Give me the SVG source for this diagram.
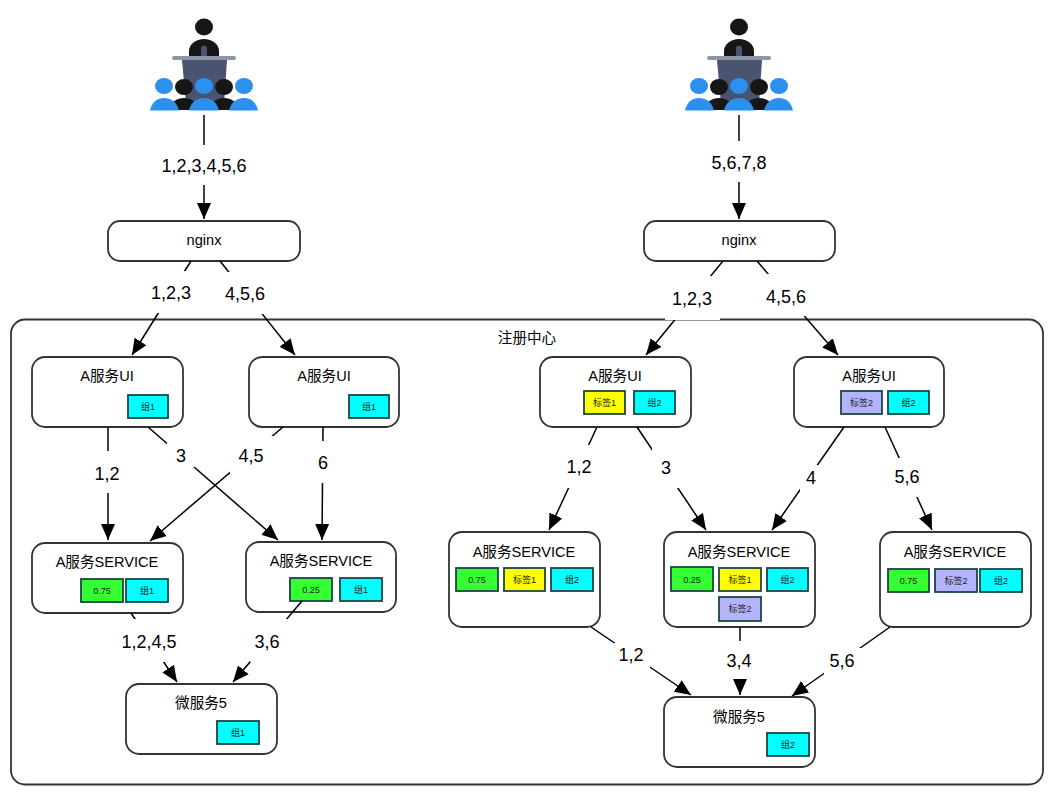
<svg xmlns="http://www.w3.org/2000/svg" xmlns:xlink="http://www.w3.org/1999/xlink" width="1059" height="799" viewBox="0 0 1059 799">
<style>
text{font-family:"Liberation Sans","Noto Sans CJK SC",sans-serif;fill:#000;text-anchor:middle}
.box{fill:#fff;stroke:#333;stroke-width:1.8}
.n{font-size:14.600px}
.t{font-size:9px;fill:#222}
.l{font-size:18px}
.tag{stroke:#1d4444;stroke-width:1.8}
.c{fill:#00ffff}.g{fill:#33ff33}.y{fill:#ffff00}.p{fill:#b3b3ff}
.e{fill:none;stroke:#000;stroke-width:1.5;marker-end:url(#a)}
.w{fill:#fff;stroke:none}
</style>
<defs>
<marker id="a" markerUnits="userSpaceOnUse" markerWidth="17" markerHeight="16" refX="16" refY="8" orient="auto"><path d="M0 1L16 8L0 15Z" fill="#000"/></marker>
<g id="audience">
<ellipse cx="0" cy="27" rx="9" ry="8.500" fill="#161616"/>
<path d="M-15 56V51C-15 44-8 39 0 39C8 39 15 44 15 51V56Z" fill="#161616"/>
<path d="M-3 56V47Q0 44 3 47V56Z" fill="#4a5370"/>
<path d="M-22 60H23L20 104H-18Z" fill="#4a5370"/>
<rect x="-32" y="56" width="64" height="4" rx="2" fill="#8e96a5"/>
<ellipse cx="-20" cy="87" rx="9" ry="8" fill="#161616"/>
<ellipse cx="20" cy="87" rx="9" ry="8" fill="#161616"/>
<path d="M-34 110C-34 102-27 98-20 98C-13 98-6 102-6 110Z" fill="#161616"/>
<path d="M6 110C6 102 13 98 20 98C27 98 34 102 34 110Z" fill="#161616"/>
<ellipse cx="-40" cy="86" rx="9" ry="8" fill="#2b90ee"/>
<ellipse cx="0" cy="86" rx="9" ry="8" fill="#2b90ee"/>
<ellipse cx="40" cy="86" rx="9" ry="8" fill="#2b90ee"/>
<path d="M-54 110.500C-52 102-47 98-40 98C-33 98-27 102-25 110.500Z" fill="#2b90ee"/>
<path d="M-15 110.500C-13 102-7 98 0 98C7 98 13 102 15 110.500Z" fill="#2b90ee"/>
<path d="M25 110.500C27 102 33 98 40 98C47 98 52 102 54 110.500Z" fill="#2b90ee"/>
</g>
</defs>
<rect width="1059" height="799" fill="#fff"/>
<g id="registry"><rect class="box" x="11" y="319.500" width="1032" height="465" rx="14"/><text class="n" x="527" y="343">注册中心</text></g>
<g id="audience-left"><use href="#audience" x="204"/></g>
<g id="audience-right"><use href="#audience" x="739"/></g>
<g id="nginx-left"><rect class="box" x="108" y="221" width="192" height="40" rx="12"/><text class="n" x="204" y="245">nginx</text></g>
<g id="nginx-right"><rect class="box" x="644" y="221" width="191" height="40" rx="12"/><text class="n" x="739" y="245">nginx</text></g>
<g id="ui-l1"><rect class="box" x="32" y="357" width="151" height="70" rx="13"/><text class="n" x="107" y="381">A服务UI</text><rect class="tag c" x="128" y="395" width="40" height="23"/><text class="t" x="148" y="410">组1</text></g>
<g id="ui-l2"><rect class="box" x="249" y="357" width="150" height="70" rx="13"/><text class="n" x="324" y="381">A服务UI</text><rect class="tag c" x="349" y="395" width="40" height="23"/><text class="t" x="369" y="410">组1</text></g>
<g id="svc-l1"><rect class="box" x="32" y="543" width="151" height="70" rx="13"/><text class="n" x="107" y="567">A服务SERVICE</text><rect class="tag g" x="81" y="579" width="42" height="23"/><text class="t" x="102" y="594">0.75</text><rect class="tag c" x="126" y="579" width="42" height="23"/><text class="t" x="147" y="594">组1</text></g>
<g id="svc-l2"><rect class="box" x="246" y="542" width="150" height="70" rx="13"/><text class="n" x="321" y="566">A服务SERVICE</text><rect class="tag g" x="290" y="578" width="42" height="23"/><text class="t" x="311" y="593">0.25</text><rect class="tag c" x="340" y="578" width="42" height="23"/><text class="t" x="361" y="593">组1</text></g>
<g id="micro-l"><rect class="box" x="126" y="684" width="151" height="70" rx="13"/><text class="n" x="201" y="708">微服务5</text><rect class="tag c" x="217" y="721" width="42" height="23"/><text class="t" x="238" y="736">组1</text></g>
<g id="ui-r1"><rect class="box" x="540" y="357" width="151" height="70" rx="13"/><text class="n" x="615" y="381">A服务UI</text><rect class="tag y" x="584" y="391" width="41" height="23"/><text class="t" x="604.500" y="406">标签1</text><rect class="tag c" x="634" y="391" width="41" height="23"/><text class="t" x="654.500" y="406">组2</text></g>
<g id="ui-r2"><rect class="box" x="794" y="357" width="150" height="70" rx="13"/><text class="n" x="869" y="381">A服务UI</text><rect class="tag p" x="841" y="391" width="41" height="23"/><text class="t" x="861.500" y="406">标签2</text><rect class="tag c" x="888" y="391" width="41" height="23"/><text class="t" x="908.500" y="406">组2</text></g>
<g id="svc-r1"><rect class="box" x="449" y="532" width="151" height="95" rx="13"/><text class="n" x="524" y="557">A服务SERVICE</text><rect class="tag g" x="456" y="568" width="42" height="23"/><text class="t" x="477" y="583">0.75</text><rect class="tag y" x="504" y="568" width="41" height="23"/><text class="t" x="524.500" y="583">标签1</text><rect class="tag c" x="551" y="568" width="42" height="23"/><text class="t" x="572" y="583">组2</text></g>
<g id="svc-r2"><rect class="box" x="664" y="532" width="151" height="95" rx="13"/><text class="n" x="739" y="557">A服务SERVICE</text><rect class="tag g" x="671" y="567" width="42" height="24"/><text class="t" x="692" y="583">0.25</text><rect class="tag y" x="719" y="568" width="42" height="23"/><text class="t" x="740" y="583">标签1</text><rect class="tag c" x="767" y="568" width="41" height="23"/><text class="t" x="787.500" y="583">组2</text><rect class="tag p" x="719" y="597" width="42" height="24"/><text class="t" x="740" y="612">标签2</text></g>
<g id="svc-r3"><rect class="box" x="880" y="532" width="151" height="95" rx="13"/><text class="n" x="955" y="557">A服务SERVICE</text><rect class="tag g" x="888" y="569" width="41" height="23"/><text class="t" x="908.500" y="584">0.75</text><rect class="tag p" x="935" y="569" width="42" height="23"/><text class="t" x="956" y="584">标签2</text><rect class="tag c" x="980" y="569" width="42" height="23"/><text class="t" x="1001" y="584">组2</text></g>
<g id="micro-r"><rect class="box" x="664" y="697" width="151" height="70" rx="13"/><text class="n" x="739" y="722">微服务5</text><rect class="tag c" x="767" y="733" width="42" height="23"/><text class="t" x="788" y="748">组2</text></g>
<g id="connectors">
<path class="e" d="M204 115V219"/>
<path class="e" d="M191 261L132 355"/>
<path class="e" d="M220 261L295 355"/>
<path class="e" d="M108 427V540"/>
<path class="e" d="M148 427L278 540"/>
<path class="e" d="M283 427L150 541"/>
<path class="e" d="M323 427L322 540"/>
<path class="e" d="M131 613L177 682"/>
<path class="e" d="M302 601L233 682"/>
<path class="e" d="M739 115V219"/>
<path class="e" d="M723 261L646 355"/>
<path class="e" d="M757 261L838 355"/>
<path class="e" d="M597 427L549 530"/>
<path class="e" d="M637 427L706 530"/>
<path class="e" d="M844 427L772 530"/>
<path class="e" d="M885 427L932 530"/>
<path class="e" d="M591 627L691 695"/>
<path class="e" d="M740 627V695"/>
<path class="e" d="M890 627L792 696"/>
<rect class="w" x="158" y="145" width="92" height="40"/><text class="l" x="204" y="172">1,2,3,4,5,6</text>
<rect class="w" x="150" y="271" width="43" height="42"/><text class="l" x="171" y="299">1,2,3</text>
<rect class="w" x="223" y="272" width="45" height="42"/><text class="l" x="245" y="300">4,5,6</text>
<rect class="w" x="95" y="451" width="26" height="42"/><text class="l" x="107" y="480">1,2</text>
<rect class="w" x="167" y="443" width="28" height="24"/><text class="l" x="181" y="462">3</text>
<rect class="w" x="230" y="436" width="43" height="37"/><text class="l" x="251" y="462">4,5</text>
<rect class="w" x="310" y="441" width="26" height="42"/><text class="l" x="323" y="469">6</text>
<rect class="w" x="120" y="619" width="58" height="43"/><text class="l" x="149" y="648">1,2,4,5</text>
<rect class="w" x="250" y="619" width="42" height="43"/><text class="l" x="267" y="648">3,6</text>
<rect class="w" x="708" y="141" width="62" height="41"/><text class="l" x="739" y="169">5,6,7,8</text>
<rect class="w" x="665" y="276" width="55" height="44"/><text class="l" x="692" y="305">1,2,3</text>
<rect class="w" x="764" y="274" width="44" height="42"/><text class="l" x="786" y="303">4,5,6</text>
<rect class="w" x="566" y="445" width="27" height="43"/><text class="l" x="579" y="473">1,2</text>
<rect class="w" x="652" y="447" width="28" height="41"/><text class="l" x="666" y="474">3</text>
<rect class="w" x="800" y="465" width="23" height="26"/><text class="l" x="811" y="484">4</text>
<rect class="w" x="890" y="458" width="34" height="39"/><text class="l" x="907" y="483">5,6</text>
<rect class="w" x="614" y="643" width="36" height="27"/><text class="l" x="631" y="661">1,2</text>
<rect class="w" x="722" y="641" width="36" height="38"/><text class="l" x="739" y="667">3,4</text>
<rect class="w" x="824" y="648" width="37" height="28"/><text class="l" x="842" y="667">5,6</text>
</g>
</svg>
